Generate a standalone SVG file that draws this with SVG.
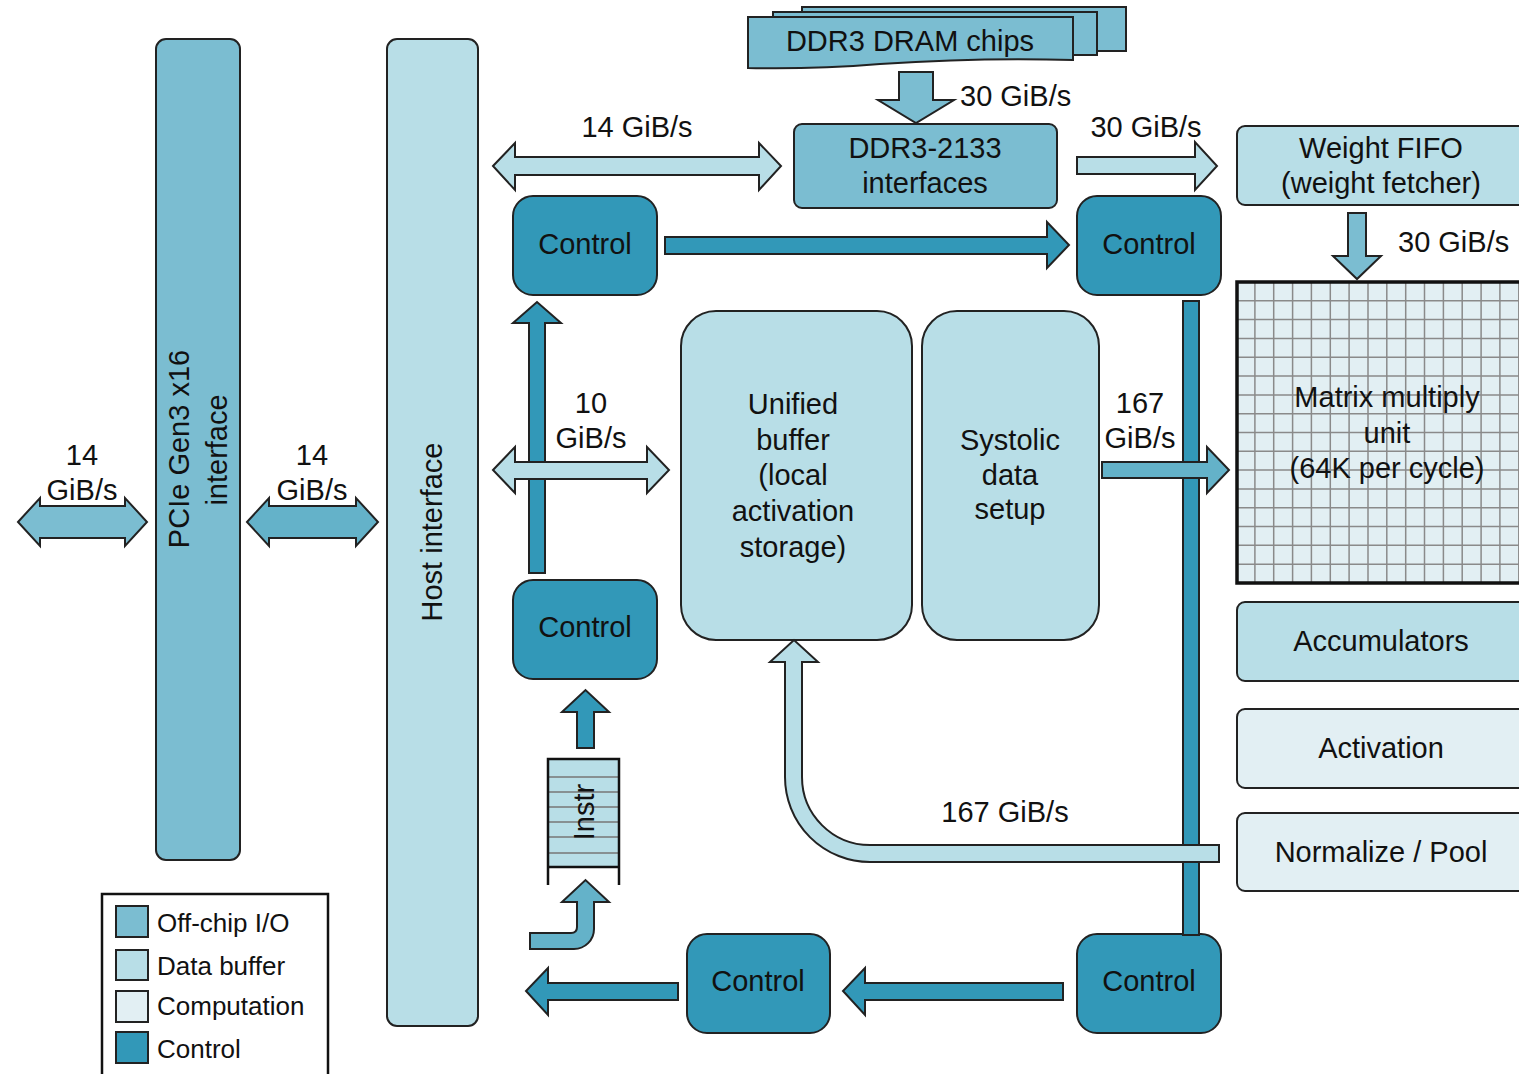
<svg xmlns="http://www.w3.org/2000/svg" width="1519" height="1074" viewBox="0 0 1519 1074">
  <style>
    text { font-family: "Liberation Sans", Arial, sans-serif; font-size: 29px; fill: #111; }
    .mid { text-anchor: middle; }
    .legend text { font-size: 26px; }
    .box { stroke: #222; stroke-width: 2; }
    .io { fill: #7BBDD1; }
    .buf { fill: #B8DEE7; }
    .comp { fill: #E2EFF3; }
    .ctl { fill: #3298B8; }
    .midc { fill: #64B2C9; }
    .arrow { stroke: #222; stroke-width: 2; stroke-linejoin: miter; }
    .grid { stroke: #8a8a8a; stroke-width: 1.5; fill: none; }
  </style>

  <rect width="1519" height="1074" fill="#fff"/>

  <!-- PCIe interface -->
  <g id="pcie">
    <rect class="box io" x="156" y="39" width="84" height="821" rx="10"/>
    <text class="mid" transform="translate(189,449) rotate(-90)">PCIe Gen3 x16</text>
    <text class="mid" transform="translate(227,450) rotate(-90)">interface</text>
  </g>

  <!-- Host interface -->
  <g id="host">
    <rect class="box buf" x="387" y="39" width="91" height="987" rx="10"/>
    <text class="mid" transform="translate(442,532) rotate(-90)">Host interface</text>
  </g>

  <!-- DRAM chip stack -->
  <g id="dram">
    <rect class="box io" x="802" y="7" width="324" height="44"/>
    <rect class="box io" x="773" y="12" width="324" height="43"/>
    <path class="box io" d="M748,17 H1073 V60 C1010,58 940,60 880,64 C830,68 790,69 748,68 Z"/>
    <text class="mid" x="910" y="51">DDR3 DRAM chips</text>
  </g>

  <!-- DDR3 interfaces -->
  <g id="ddr3">
    <rect class="box io" x="794" y="124" width="263" height="84" rx="8"/>
    <text class="mid" x="925" y="158">DDR3-2133</text>
    <text class="mid" x="925" y="193">interfaces</text>
  </g>

  <!-- Weight FIFO -->
  <g id="wfifo">
    <rect class="box buf" x="1237" y="126" width="300" height="79" rx="8"/>
    <text class="mid" x="1381" y="158">Weight FIFO</text>
    <text class="mid" x="1381" y="193">(weight fetcher)</text>
  </g>

  <!-- Matrix multiply unit -->
  <g id="mmu">
    <rect x="1237" y="282" width="300" height="301" fill="#E2EFF3"/>
    <path class="grid" d="M1254.9,282V583M1273.7,282V583M1292.6,282V583M1311.4,282V583M1330.3,282V583M1349.1,282V583M1368,282V583M1386.8,282V583M1405.7,282V583M1424.5,282V583M1443.4,282V583M1462.2,282V583M1481.1,282V583M1499.9,282V583M1518.8,282V583
      M1237,300.8H1519M1237,319.6H1519M1237,338.4H1519M1237,357.2H1519M1237,376.1H1519M1237,394.9H1519M1237,413.7H1519M1237,432.5H1519M1237,451.3H1519M1237,470.1H1519M1237,488.9H1519M1237,507.7H1519M1237,526.5H1519M1237,545.3H1519M1237,564.2H1519"/>
    <rect x="1237" y="282" width="300" height="301" fill="none" stroke="#111" stroke-width="3.5"/>
    <text class="mid" x="1387" y="407">Matrix multiply</text>
    <text class="mid" x="1387" y="443">unit</text>
    <text class="mid" x="1387" y="478">(64K per cycle)</text>
  </g>

  <!-- Accumulators / Activation / Normalize -->
  <g id="acc">
    <rect class="box buf" x="1237" y="602" width="300" height="79" rx="8"/>
    <text class="mid" x="1381" y="651">Accumulators</text>
  </g>
  <g id="act">
    <rect class="box comp" x="1237" y="709" width="300" height="79" rx="8"/>
    <text class="mid" x="1381" y="758">Activation</text>
  </g>
  <g id="norm">
    <rect class="box comp" x="1237" y="813" width="300" height="78" rx="8"/>
    <text class="mid" x="1381" y="862">Normalize / Pool</text>
  </g>

  <!-- Unified buffer -->
  <g id="ubuf">
    <rect class="box buf" x="681" y="311" width="231" height="329" rx="35"/>
    <text class="mid" x="793" y="414">Unified</text>
    <text class="mid" x="793" y="450">buffer</text>
    <text class="mid" x="793" y="485">(local</text>
    <text class="mid" x="793" y="521">activation</text>
    <text class="mid" x="793" y="557">storage)</text>
  </g>

  <!-- Systolic data setup -->
  <g id="systolic">
    <rect class="box buf" x="922" y="311" width="177" height="329" rx="35"/>
    <text class="mid" x="1010" y="450">Systolic</text>
    <text class="mid" x="1010" y="485">data</text>
    <text class="mid" x="1010" y="519">setup</text>
  </g>

  <!-- Control units -->
  <g id="ctl-top-left">
    <rect class="box ctl" x="513" y="196" width="144" height="99" rx="20"/>
    <text class="mid" x="585" y="254">Control</text>
  </g>
  <g id="ctl-top-right">
    <rect class="box ctl" x="1077" y="196" width="144" height="99" rx="20"/>
    <text class="mid" x="1149" y="254">Control</text>
  </g>
  <g id="ctl-mid-left">
    <rect class="box ctl" x="513" y="580" width="144" height="99" rx="20"/>
    <text class="mid" x="585" y="637">Control</text>
  </g>
  <g id="ctl-bottom-mid">
    <rect class="box ctl" x="687" y="934" width="143" height="99" rx="20"/>
    <text class="mid" x="758" y="991">Control</text>
  </g>
  <g id="ctl-bottom-right">
    <rect class="box ctl" x="1077" y="934" width="144" height="99" rx="20"/>
    <text class="mid" x="1149" y="991">Control</text>
  </g>

  <!-- Instruction queue -->
  <g id="instr">
    <rect x="548" y="759" width="71" height="108" fill="#B8DEE7"/>
    <path d="M548,777H619M548,792H619M548,807H619M548,822H619M548,837H619M548,853H619" stroke="#777" stroke-width="1.5"/>
    <path d="M548,885V759H619V885M548,867H619" fill="none" stroke="#111" stroke-width="2.5"/>
    <text class="mid" transform="translate(594,812) rotate(-90)">Instr</text>
  </g>

  <!-- Connectors -->
  <g id="connectors">
    <!-- off-chip PCIe links -->
    <polygon class="arrow io" points="18,522 40,498 40,506 125,506 125,498 147,522 125,546 125,538 40,538 40,546"/>
    <polygon class="arrow midc" points="247,522 269,498 269,506 356,506 356,498 378,522 356,546 356,538 269,538 269,546"/>
    <!-- host to DDR3 -->
    <polygon class="arrow buf" points="493,166 515,143 515,157 759,157 759,143 781,166 759,190 759,175 515,175 515,190"/>
    <!-- DRAM to DDR3 interfaces -->
    <polygon class="arrow io" points="899,72 933,72 933,100 954,100 916,123 878,100 899,100"/>
    <!-- DDR3 to weight FIFO -->
    <polygon class="arrow buf" points="1077,157 1195,157 1195,142 1217,166 1195,190 1195,174 1077,174"/>
    <!-- weight FIFO to matrix unit -->
    <polygon class="arrow io" points="1348,213 1366,213 1366,256 1381,256 1357,279 1333,256 1348,256"/>
    <!-- control chain across the top -->
    <polygon class="arrow ctl" points="665,237 1047,237 1047,222 1069,245 1047,268 1047,254 665,254"/>
    <!-- control bar on the right -->
    <rect class="arrow ctl" x="1183" y="301" width="16" height="634"/>
    <!-- control: lower left up to upper left -->
    <polygon class="arrow ctl" points="529,573 529,323 513,323 537,302 561,323 545,323 545,573"/>
    <!-- host to unified buffer -->
    <polygon class="arrow buf" points="493,470 515,447 515,462 647,462 647,447 669,470 647,493 647,479 515,479 515,493"/>
    <!-- systolic setup to matrix unit -->
    <polygon class="arrow midc" points="1102,462 1207,462 1207,447 1229,470 1207,493 1207,478 1102,478"/>
    <!-- results back to unified buffer -->
    <path class="arrow buf" d="M1219,845 H870 A68,68 0 0 1 802,777 V662 H818 L794,640 L770,662 H785 V777 A85,85 0 0 0 870,862 H1219 Z"/>
    <!-- instruction queue to control -->
    <polygon class="arrow ctl" points="577,748 577,712 562,712 585.5,690 609,712 594,712 594,748"/>
    <!-- instructions in -->
    <path class="arrow midc" d="M530,933 H571 Q577,933 577,927 V902 H562 L585.5,880 L609,902 H594 V929 A20,20 0 0 1 574,949 H530 Z"/>
    <!-- bottom control chain -->
    <polygon class="arrow ctl" points="1063,983 865,983 865,968 843,991 865,1015 865,1000 1063,1000"/>
    <polygon class="arrow ctl" points="678,983 548,983 548,968 526,991 548,1015 548,1000 678,1000"/>
  </g>

  <!-- Bandwidth labels -->
  <g id="labels">
    <text class="mid" x="82" y="465">14</text>
    <text class="mid" x="82" y="500">GiB/s</text>
    <text class="mid" x="312" y="465">14</text>
    <text class="mid" x="312" y="500">GiB/s</text>
    <text class="mid" x="637" y="137">14 GiB/s</text>
    <text x="960" y="106">30 GiB/s</text>
    <text class="mid" x="1146" y="137">30 GiB/s</text>
    <text x="1398" y="252">30 GiB/s</text>
    <text class="mid" x="591" y="413">10</text>
    <text class="mid" x="591" y="448">GiB/s</text>
    <text class="mid" x="1140" y="413">167</text>
    <text class="mid" x="1140" y="448">GiB/s</text>
    <text class="mid" x="1005" y="822">167 GiB/s</text>
  </g>

  <!-- Legend -->
  <g id="legend" class="legend">
    <rect x="102" y="894" width="226" height="200" fill="#fff" stroke="#111" stroke-width="2.5"/>
    <rect class="box io" x="116" y="906" width="32" height="31"/>
    <rect class="box buf" x="116" y="950" width="32" height="30"/>
    <rect class="box comp" x="116" y="991" width="32" height="31"/>
    <rect class="box ctl" x="116" y="1032" width="32" height="31"/>
    <text x="157" y="932">Off-chip I/O</text>
    <text x="157" y="975">Data buffer</text>
    <text x="157" y="1015">Computation</text>
    <text x="157" y="1058">Control</text>
  </g>
</svg>
